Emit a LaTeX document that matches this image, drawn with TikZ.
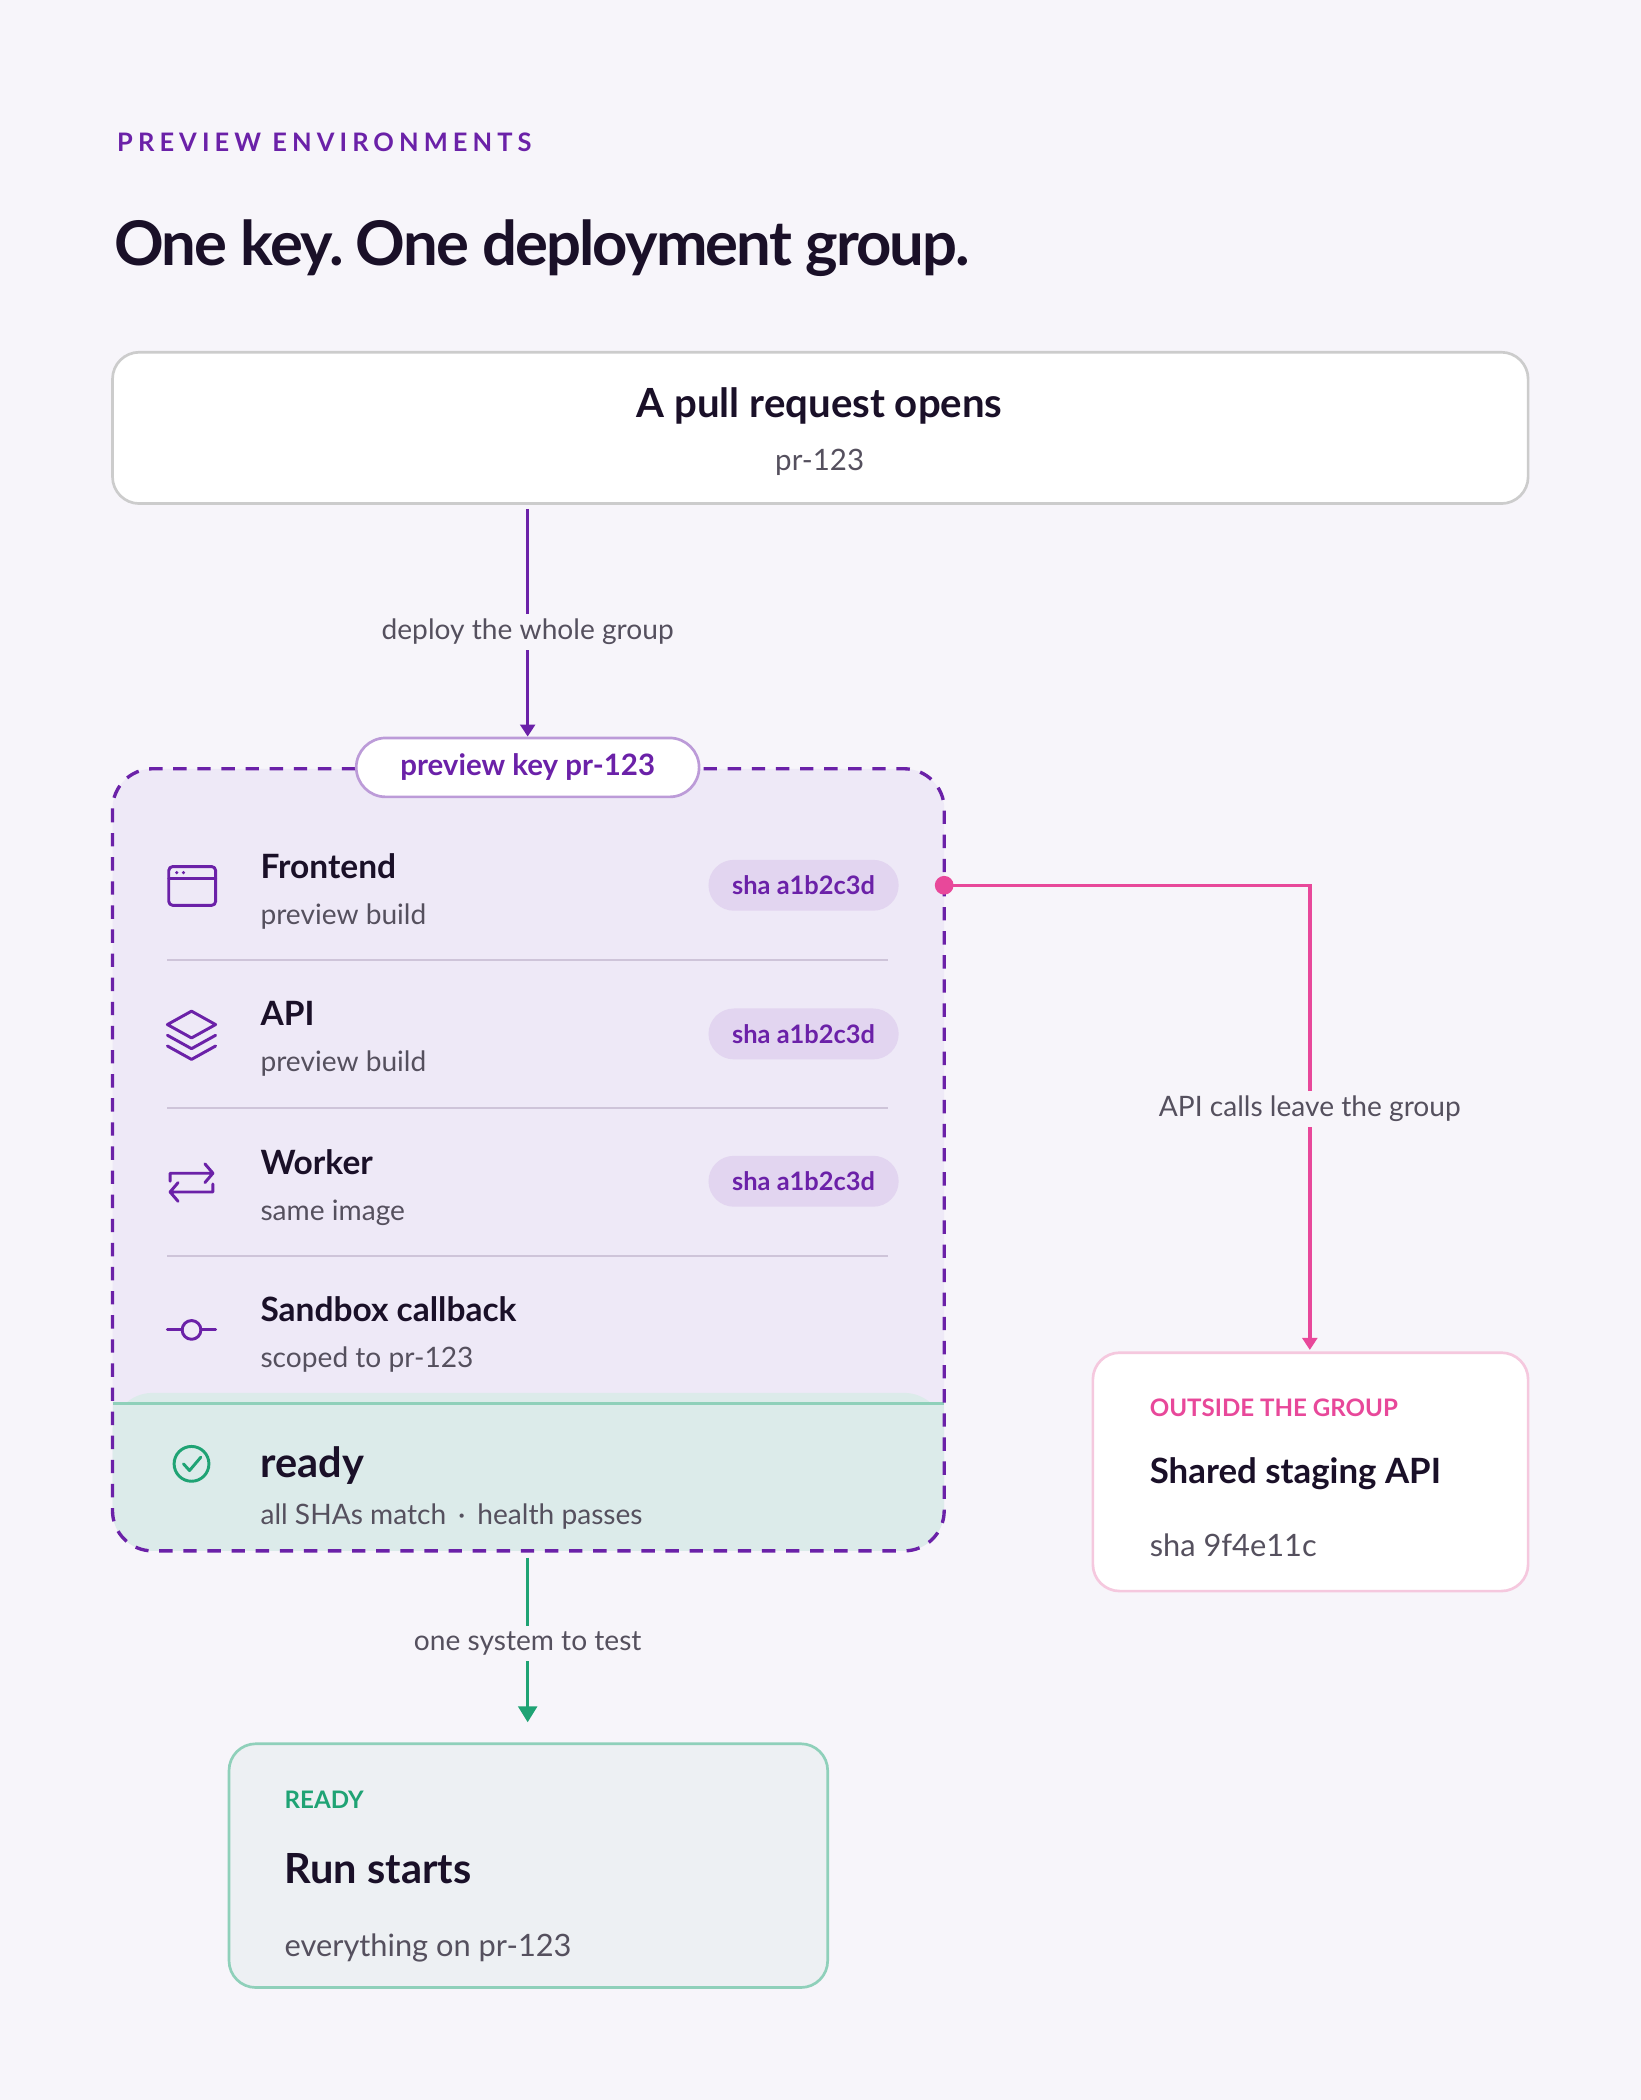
\documentclass[tikz,border=0pt]{standalone}
\usepackage{fontspec}
\setmainfont{Lato}
\usepackage{tikz}
\usetikzlibrary{arrows.meta,calc,positioning}
\definecolor{bgc}{HTML}{F7F5FA}
\definecolor{ink}{HTML}{1A1028}
\definecolor{grayt}{HTML}{55505E}
\definecolor{purp}{HTML}{6B21A8}
\definecolor{lav}{HTML}{EEE9F7}
\definecolor{badge}{HTML}{E2D5F0}
\definecolor{pink}{HTML}{E8489A}
\definecolor{pinkl}{HTML}{F5C8DE}
\definecolor{grn}{HTML}{1FA374}
\definecolor{grnl}{HTML}{8FD0BA}
\definecolor{grnbg}{HTML}{DCEBEA}
\definecolor{runbg}{HTML}{EDF0F3}
\tikzset{
	title/.style={anchor=base west,font=\fontsize{25}{28}\selectfont\bfseries,text=ink},
	sub/.style={anchor=base west,font=\fontsize{21}{24}\selectfont,text=grayt},
	badge/.style={fill=badge,rounded corners=19pt,minimum width=142pt,minimum height=38pt,
		text=purp,font=\fontsize{19}{22}\selectfont\bfseries},
	sep/.style={draw=badge!80!gray,line width=1.5pt},
	icon/.style={draw=purp,line width=2.2pt,line cap=round,line join=round},
	flowlbl/.style={fill=bgc,text=grayt,font=\fontsize{21}{24}\selectfont,inner sep=4pt},
	card/.style={rounded corners=20pt,line width=2pt},
	kicker/.style={anchor=base west,font=\fontsize{18}{22}\selectfont\bfseries}
}
\begin{document}
\begin{tikzpicture}[x=1pt,y=-1pt]
  \fill[bgc] (0,0) rectangle (1225,1568);
  \useasboundingbox (0,0) rectangle (1225,1568);
  % heading
  \node[anchor=base west,text=purp,font=\fontsize{19}{22}\selectfont\bfseries] (kick) at (84,113)
      {\addfontfeature{LetterSpace=20}PREVIEW ENVIRONMENTS};
  \node[anchor=base west,text=ink,font=\fontsize{46}{50}\selectfont\bfseries] (head) at (82,198)
      {\addfontfeature{LetterSpace=-3}One key.\hspace{-4pt} One deployment group.};
  % pull request
  \draw[card,fill=white,draw=black!20] (84,263) rectangle (1141,376);
  \node[text=ink,font=\fontsize{30}{34}\selectfont\bfseries] (pr) at (612,303) {A pull request opens};
  \node[text=grayt,font=\fontsize{22}{24}\selectfont] (prsub) at (612,345) {pr-123};
  \coordinate (prb) at (394,380);
  % group
  \fill[lav,rounded corners=30pt] (84,574) rectangle (705,1158);
  \fill[grnbg,rounded corners=30pt] (84,1040) rectangle (705,1158);
  \fill[grnbg] (84,1048) rectangle (705,1080);
  \draw[grnl,line width=2.5pt] (84,1048) -- (705,1048);
  \draw[purp,line width=2.5pt,dash pattern=on 10pt off 8pt,rounded corners=30pt] (84,574) rectangle (705,1158);
  \node[draw=purp!45,line width=2pt,fill=white,rounded corners=22pt,minimum width=256pt,minimum height=44pt,
        text=purp,font=\fontsize{22}{24}\selectfont\bfseries] (key) at (394,573) {preview key pr-123};
  % rows
  \node[title] (fe) at (191,656) {Frontend};
  \node[sub] at (191,690) {preview build};
  \node[badge] (shafe) at (600,661) {sha a1b2c3d};
  \node[title] (api) at (191,766) {API};
  \node[sub] at (191,800) {preview build};
  \node[badge] (shaapi) at (600,772) {sha a1b2c3d};
  \node[title] (wk) at (191,877) {Worker};
  \node[sub] at (191,911) {same image};
  \node[badge] (shawk) at (600,882) {sha a1b2c3d};
  \node[title] (sb) at (191,987) {Sandbox callback};
  \node[sub] at (191,1021) {scoped to pr-123};
  \foreach \y in {717,827,938} \draw[sep] (125,\y) -- (663,\y);
  % icons
  \draw[icon,rounded corners=3pt] (126,647) rectangle (161,676);
  \draw[icon] (126,656) -- (161,656);
  \fill[purp] (132,651.5) circle (1.3pt) (137,651.5) circle (1.3pt);
  \draw[icon] (143,755) -- (161,765) -- (143,775) -- (125,765) -- cycle;
  \draw[icon] (125,773) -- (143,783) -- (161,773);
  \draw[icon] (125,781) -- (143,791) -- (161,781);
  \draw[icon] (127,882) -- (127,876) -- (159,876) (153,869) -- (159,876) -- (153,883);
  \draw[icon] (159,884) -- (159,890) -- (127,890) (133,883) -- (127,890) -- (133,897);
  \draw[icon] (125,993) -- (136,993) (150,993) -- (161,993);
  \draw[icon] (143,993) circle (7pt);
  % ready
  \draw[grn,line width=2.2pt] (143,1093) circle (13pt);
  \draw[grn,line width=2.2pt,line cap=round,line join=round] (137,1093) -- (141.5,1098) -- (150,1088);
  \node[anchor=base west,text=ink,font=\fontsize{31}{34}\selectfont\bfseries] (rdy) at (191,1103) {ready};
  \node[sub] at (191,1138) {all SHAs match \,·\, health passes};
  % outside
  \draw[card,fill=white,draw=pinkl] (816,1010) rectangle (1141,1188);
  \node[kicker,text=pink] (outk) at (855,1058) {OUTSIDE THE GROUP};
  \node[title,font=\fontsize{26}{30}\selectfont\bfseries] (stg) at (855,1108) {Shared staging API};
  \node[sub,font=\fontsize{23}{26}\selectfont] at (855,1162) {sha 9f4e11c};
  \coordinate (stgt) at (978,1008);
  % run
  \draw[card,fill=runbg,draw=grnl] (171,1302) rectangle (618,1484);
  \node[kicker,text=grn] (rdk) at (209,1350) {READY};
  \node[title,font=\fontsize{31}{34}\selectfont\bfseries] (run) at (209,1406) {Run starts};
  \node[sub,font=\fontsize{23}{26}\selectfont] at (209,1461) {everything on pr-123};
  % flows
  \draw[purp,line width=2.5pt,-{Triangle[length=9pt,width=11pt]}] (prb) -- (key.north);
  \node[flowlbl] at (394,472) {deploy the whole group};
  \coordinate (grpr) at (705,661);
  \draw[pink,line width=2.5pt,-{Triangle[length=9pt,width=11pt]}] (grpr) -| (stgt);
  \fill[pink] (grpr) circle (7pt);
  \node[flowlbl] at (978,828) {API calls leave the group};
  \coordinate (grpb) at (394,1163);
  \draw[grn,line width=2.5pt,-{Triangle[length=12pt,width=14pt]}] (grpb) -- (394,1286);
  \node[flowlbl] at (394,1227) {one system to test};
\end{tikzpicture}
\end{document}
